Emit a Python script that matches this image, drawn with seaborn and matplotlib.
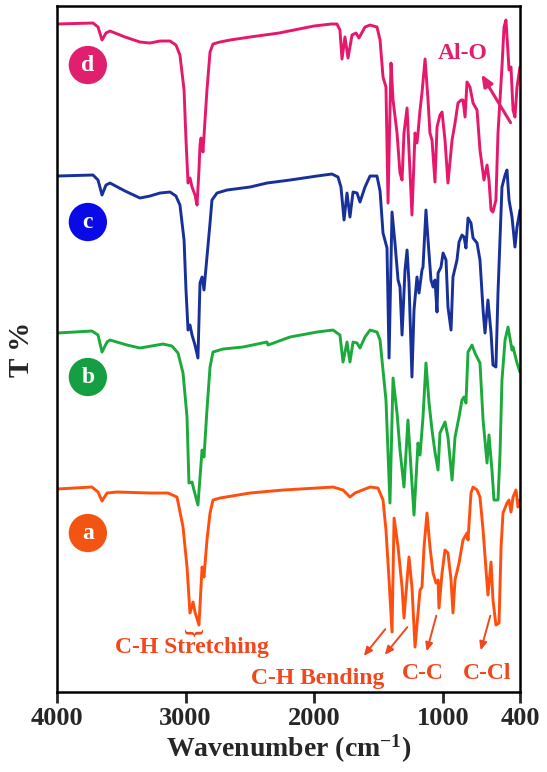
import numpy as np
import pandas as pd
import matplotlib
matplotlib.use("Agg")
import matplotlib.pyplot as plt
import seaborn as sns

# ---------------- data (wavenumber cm-1, displayed transmittance, stacked) ----------------
wn_d = [4000, 3720, 3681, 3650, 3619, 3588, 3471, 3355, 3277, 3199, 3121, 3075, 3044, 3012, 2997, 2981,
        2966, 2950, 2927, 2911, 2896, 2888, 2880, 2865, 2849, 2834, 2810, 2787, 2733, 2655, 2499, 2274,
        2002, 1869, 1823, 1800, 1784, 1761, 1737, 1706, 1675, 1652, 1605, 1566, 1512, 1488, 1465, 1442,
        1426, 1403, 1387, 1356, 1333, 1317, 1302, 1278, 1263, 1240, 1216, 1201, 1193, 1177, 1162, 1138,
        1115, 1100, 1084, 1061, 1045, 1022, 1006, 983, 960, 928, 905, 882, 858, 843, 827, 812, 789, 765,
        734, 711, 680, 656, 641, 625, 610, 587, 571, 540, 524, 509, 493, 485, 470, 454, 439, 423, 400]
t_d = [133.6, 133.8, 133.0, 130.4, 131.8, 132.2, 131.0, 130.0, 129.8, 130.2, 130.2, 129.4, 127.4, 120.4,
       110.4, 101.8, 102.8, 101.0, 99.4, 97.4, 104.4, 109.4, 110.8, 108.0, 114.4, 120.4, 128.0, 129.6,
       130.0, 130.4, 131.0, 131.8, 133.2, 133.6, 133.6, 132.4, 126.6, 131.0, 126.8, 131.4, 131.8, 130.8,
       133.0, 133.4, 133.0, 130.4, 123.0, 121.0, 97.8, 125.8, 118.4, 111.8, 103.8, 102.4, 111.8, 116.8,
       108.4, 95.4, 111.8, 109.8, 111.8, 116.4, 119.8, 126.6, 118.4, 111.8, 110.4, 102.0, 113.0, 115.4,
       116.0, 110.4, 101.8, 110.4, 113.8, 117.8, 118.4, 118.4, 115.0, 122.0, 121.0, 117.8, 116.4, 108.4,
       102.4, 105.4, 102.4, 96.4, 96.0, 98.4, 111.8, 125.0, 133.0, 134.4, 127.8, 124.4, 125.0, 116.4,
       115.0, 121.0, 125.0]

wn_c = [4000, 3720, 3681, 3650, 3619, 3588, 3471, 3355, 3277, 3199, 3121, 3075, 3044, 3012, 2997, 2981,
        2966, 2950, 2927, 2904, 2888, 2872, 2857, 2834, 2810, 2795, 2756, 2678, 2499, 2367, 2188, 1978,
        1862, 1815, 1792, 1768, 1745, 1722, 1698, 1667, 1644, 1605, 1566, 1512, 1488, 1465, 1434, 1418,
        1395, 1372, 1348, 1333, 1317, 1294, 1278, 1263, 1240, 1224, 1201, 1185, 1162, 1154, 1131, 1115,
        1092, 1076, 1061, 1045, 1037, 1014, 998, 975, 960, 936, 921, 890, 874, 851, 835, 820, 804, 781,
        765, 734, 711, 687, 672, 649, 625, 610, 587, 571, 540, 516, 501, 485, 462, 439, 423, 400]
t_c = [103.2, 103.4, 102.4, 99.4, 101.4, 101.8, 100.2, 98.8, 99.2, 99.8, 100.0, 99.2, 97.4, 90.4, 80.4,
       72.4, 73.4, 71.4, 69.4, 66.8, 81.8, 83.0, 80.4, 87.0, 93.8, 98.4, 99.8, 100.4, 101.0, 101.8, 102.4,
       103.2, 103.6, 103.0, 101.0, 94.4, 99.8, 95.0, 100.0, 99.8, 98.0, 101.0, 103.2, 103.2, 100.2, 91.8,
       88.8, 66.8, 96.0, 89.8, 82.4, 81.0, 71.4, 84.4, 88.4, 81.8, 63.0, 76.4, 83.0, 79.8, 84.4, 85.0,
       96.4, 90.4, 82.4, 81.0, 82.4, 76.0, 83.8, 85.0, 87.8, 86.4, 77.0, 72.4, 83.0, 86.4, 90.0, 91.4,
       91.0, 88.8, 94.8, 93.8, 90.8, 89.8, 86.4, 76.4, 71.8, 78.4, 71.8, 65.4, 65.0, 79.8, 101.0, 103.4,
       104.4, 98.4, 95.0, 89.0, 93.0, 96.4]

wn_b = [4000, 3728, 3681, 3650, 3611, 3588, 3456, 3355, 3176, 3106, 3059, 3020, 2989, 2974, 2950, 2935,
        2904, 2872, 2857, 2834, 2810, 2787, 2709, 2554, 2367, 2359, 2188, 1978, 1854, 1800, 1776, 1745,
        1722, 1698, 1667, 1644, 1605, 1566, 1512, 1488, 1473, 1442, 1411, 1387, 1356, 1333, 1302, 1271,
        1255, 1224, 1193, 1177, 1154, 1131, 1107, 1084, 1061, 1037, 1022, 983, 960, 928, 905, 874, 851,
        835, 820, 804, 773, 750, 711, 687, 656, 641, 618, 602, 571, 555, 540, 516, 493, 462, 454, 423, 400]
t_b = [71.8, 72.2, 71.4, 68.0, 70.0, 70.4, 69.4, 68.8, 69.6, 69.2, 67.8, 63.8, 55.0, 41.8, 42.0, 40.4,
       37.4, 48.4, 47.0, 56.4, 65.0, 68.0, 68.6, 69.0, 70.0, 69.4, 71.0, 72.0, 72.4, 71.4, 66.0, 70.0,
       66.0, 70.0, 69.8, 68.8, 71.0, 72.4, 72.0, 70.4, 66.4, 58.4, 37.8, 62.8, 55.8, 48.4, 41.0, 54.4,
       47.8, 35.4, 49.8, 47.4, 55.0, 65.8, 57.8, 52.4, 48.0, 44.4, 51.8, 54.0, 51.0, 42.4, 51.0, 55.0,
       58.4, 59.0, 57.8, 68.0, 69.4, 67.8, 65.8, 54.4, 45.8, 51.4, 44.4, 38.4, 38.4, 47.8, 62.4, 70.4,
       73.0, 68.4, 69.0, 65.8, 64.0]

wn_a = [4000, 3728, 3681, 3650, 3611, 3533, 3277, 3137, 3067, 3020, 2989, 2966, 2942, 2927, 2896, 2872,
        2857, 2834, 2810, 2787, 2733, 2499, 2243, 1978, 1854, 1776, 1722, 1683, 1566, 1504, 1465, 1442,
        1418, 1395, 1379, 1348, 1317, 1302, 1278, 1263, 1240, 1216, 1193, 1177, 1162, 1146, 1123, 1100,
        1076, 1053, 1037, 1030, 1006, 983, 960, 936, 921, 905, 874, 843, 812, 804, 781, 765, 734, 711,
        687, 664, 649, 625, 610, 587, 563, 547, 532, 501, 485, 470, 454, 431, 415, 400]
t_a = [40.6, 41.0, 40.0, 38.2, 39.8, 40.0, 39.8, 39.8, 39.0, 33.0, 25.0, 15.8, 18.0, 16.0, 13.4, 25.0,
       23.0, 30.4, 35.8, 38.4, 38.8, 39.8, 40.4, 40.8, 41.0, 40.4, 39.0, 39.8, 41.0, 40.8, 38.4, 32.4,
       22.4, 12.0, 34.8, 29.0, 21.0, 14.8, 22.4, 27.0, 21.0, 9.0, 15.8, 20.4, 21.0, 29.0, 35.8, 29.0,
       23.8, 21.8, 22.4, 16.8, 23.8, 28.4, 27.8, 22.4, 15.8, 22.4, 25.8, 30.4, 31.8, 30.4, 39.8, 41.0,
       40.4, 39.0, 32.4, 24.4, 19.4, 26.0, 18.4, 13.4, 13.8, 29.0, 35.8, 37.8, 38.4, 36.0, 39.0, 40.4,
       37.0, 38.4]

samples = ["d", "c", "b", "a"]
line_colors = {"d": "#E5186C", "c": "#17309A", "b": "#1BAA3B", "a": "#FF4F0F"}
badge_colors = {"d": "#E0206E", "c": "#0A0AE8", "b": "#169E42", "a": "#F25512"}
badge_x = 3760
badge_t = {"d": 125.4, "c": 94.0, "b": 63.0, "a": 31.8}

frames = []
for name, w, t in [("d", wn_d, t_d), ("c", wn_c, t_c), ("b", wn_b, t_b), ("a", wn_a, t_a)]:
    frames.append(pd.DataFrame({"wavenumber": w, "T": t, "sample": name,
                                "order": np.arange(len(w))}))
df = pd.concat(frames, ignore_index=True)

# ---------------- style ----------------
sns.set_style("white")
plt.rcParams["font.family"] = ["Liberation Serif", "DejaVu Serif"]
plt.rcParams["font.weight"] = "bold"
plt.rcParams["mathtext.fontset"] = "custom"
plt.rcParams["mathtext.rm"] = "Liberation Serif:bold"
plt.rcParams["mathtext.bf"] = "Liberation Serif:bold"
plt.rcParams["mathtext.default"] = "bf"

fig = plt.figure(figsize=(5.47, 7.72), dpi=100)
ax = fig.add_axes([0.1042, 0.1036, 0.8464, 0.8886])

sns.lineplot(data=df, x="wavenumber", y="T", hue="sample", units="sample", estimator=None,
             sort=False, palette=line_colors, hue_order=samples, linewidth=2.1, legend=False, ax=ax)

ax.set_xlim(4000, 400)
ax.set_ylim(0, 137.2)
ax.set_xticks([4000, 3000, 2000, 1000, 400])
ax.set_xticklabels(["4000", "3000", "2000", "1000", "400"], fontsize=19, fontweight="bold")
ax.set_yticks([])
ax.tick_params(axis="x", direction="out", length=8, width=2, pad=3, bottom=True)
for s in ax.spines.values():
    s.set_color("black")
    s.set_linewidth(1.8)

ax.set_xlabel("Wavenumber (cm$^{-1}$)", fontsize=20, fontweight="bold", labelpad=2)
ax.set_ylabel("T %", fontsize=21, fontweight="bold", labelpad=16)

# sample badges
for name in samples:
    ax.scatter([badge_x], [badge_t[name]], s=760, color=badge_colors[name], zorder=5,
               edgecolors="none")
    ax.text(badge_x, badge_t[name], name, color="white", fontsize=17, fontweight="bold",
            ha="center", va="center", zorder=6)

# annotations
ann_col = "#F2471C"
ax.text(2950, 9.0, "C-H Stretching", color=ann_col, fontsize=17, fontweight="bold",
        ha="center", va="center")
ax.text(2955, 12.0, "}", color=ann_col, fontsize=16, rotation=-90, ha="center", va="center")
ax.text(1970, 2.8, "C-H Bending", color=ann_col, fontsize=17, fontweight="bold",
        ha="center", va="center")
ax.text(1154, 3.8, "C-C", color=ann_col, fontsize=17, fontweight="bold", ha="center", va="center")
ax.text(656, 3.8, "C-Cl", color=ann_col, fontsize=17, fontweight="bold", ha="center", va="center")

arrow_kw = dict(arrowstyle="-|>,head_length=0.5,head_width=0.22", color=ann_col, lw=1.4)
for (x0, y0, x1, y1) in [(1434, 13.0, 1628, 6.8), (1263, 13.4, 1465, 7.0),
                         (1045, 15.8, 1131, 7.6), (625, 15.8, 711, 7.8)]:
    ax.annotate("", xy=(x1, y1), xytext=(x0, y0), arrowprops=arrow_kw)

ax.text(843, 127.8, "Al-O", color="#E0206E", fontsize=17, fontweight="bold", ha="center", va="center")
ax.annotate("", xy=(711, 124.0), xytext=(462, 113.4),
            arrowprops=dict(arrowstyle="-|>,head_length=0.7,head_width=0.3", color="#E0206E", lw=2.2))

fig.savefig("out.png", dpi=100, facecolor="white")
